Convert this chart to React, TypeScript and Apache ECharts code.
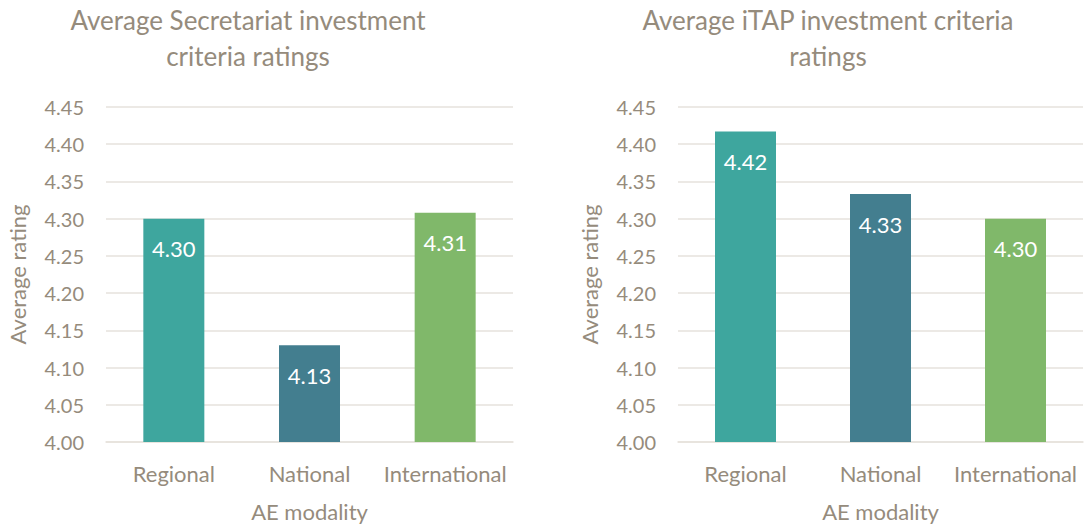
import React, { useEffect, useRef } from "react";
import * as echarts from "echarts";

const categories = ["Regional", "National", "International"];
const secretariatValues = [4.30, 4.13, 4.308];
const itapValues = [4.417, 4.333, 4.30];
const barColors = ["#3ea69e", "#437e8f", "#80b86a"];
const titles = ["Average Secretariat investment\ncriteria ratings", "Average iTAP investment criteria\nratings"];
const yMin = 4.0;
const yMax = 4.45;
const yStep = 0.05;
const yAxisName = "Average rating";
const xAxisName = "AE modality";

const FONT = "Lato, 'Open Sans', sans-serif";
const TEXT = "#958b7c";
const GRID = "#e6e2dc";

export default function App() {
  const ref = useRef<HTMLDivElement>(null);
  useEffect(() => {
    if (!ref.current) return;
    const chart = echarts.init(ref.current, undefined, { renderer: "svg" });
    const grids = [
      { left: 106, right: 573, top: 107, bottom: 85 },
      { left: 678, right: 3, top: 107, bottom: 85 },
    ];
    const mkX = (i: number) => ({
      type: "category" as const,
      gridIndex: i,
      data: categories,
      axisTick: { show: false },
      axisLine: { show: true, lineStyle: { color: GRID, width: 1.5 } },
      axisLabel: { color: TEXT, fontSize: 22, fontFamily: FONT, margin: 20, interval: 0 },
      name: xAxisName,
      nameLocation: "middle" as const,
      nameGap: 58,
      nameTextStyle: { color: TEXT, fontSize: 22, fontFamily: FONT },
    });
    const mkY = (i: number) => ({
      type: "value" as const,
      gridIndex: i,
      min: yMin,
      max: yMax,
      interval: yStep,
      axisLine: { show: false },
      axisTick: { show: false },
      splitLine: { lineStyle: { color: GRID, width: 1.5 } },
      axisLabel: {
        color: TEXT,
        fontSize: 20,
        fontFamily: FONT,
        margin: 22,
        formatter: (v: number) => v.toFixed(2),
      },
      name: yAxisName,
      nameLocation: "middle" as const,
      nameGap: 78,
      nameRotate: 90,
      nameTextStyle: { color: TEXT, fontSize: 22, fontFamily: FONT },
    });
    const mkSeries = (i: number, vals: number[]) => ({
      type: "bar" as const,
      xAxisIndex: i,
      yAxisIndex: i,
      barWidth: 61,
      data: vals.map((v, k) => ({ value: v, itemStyle: { color: barColors[k] } })),
      label: {
        show: true,
        position: "insideTop" as const,
        distance: 19,
        color: "#ffffff",
        fontSize: 22,
        fontFamily: FONT,
        formatter: (p: any) => Number(p.value).toFixed(2),
      },
    });
    chart.setOption({
      animation: false,
      backgroundColor: "#ffffff",
      grid: grids,
      xAxis: [mkX(0), mkX(1)],
      yAxis: [mkY(0), mkY(1)],
      series: [mkSeries(0, secretariatValues), mkSeries(1, itapValues)],
      graphic: [
        {
          type: "text",
          x: 248,
          y: 2,
          style: {
            text: titles[0],
            fill: TEXT,
            font: `26px ${FONT}`,
            textAlign: "center",
            lineHeight: 36,
          },
        },
        {
          type: "text",
          x: 828,
          y: 2,
          style: {
            text: titles[1],
            fill: TEXT,
            font: `26px ${FONT}`,
            textAlign: "center",
            lineHeight: 36,
          },
        },
      ],
    });
    return () => chart.dispose();
  }, []);
  return (
    <div
      ref={ref}
      style={{ position: "absolute", left: 0, top: 0, width: 1086, height: 527 }}
    />
  );
}
